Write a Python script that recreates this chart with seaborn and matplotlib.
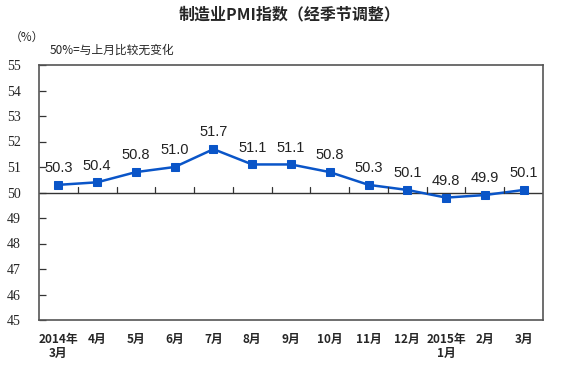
import matplotlib
matplotlib.use("Agg")
import matplotlib.pyplot as plt
import seaborn as sns
import pandas as pd

# data
months = ["2014年\n3月", "4月", "5月", "6月", "7月", "8月", "9月", "10月",
          "11月", "12月", "2015年\n1月", "2月", "3月"]
pmi = [50.3, 50.4, 50.8, 51.0, 51.7, 51.1, 51.1, 50.8, 50.3, 50.1, 49.8, 49.9, 50.1]
yticks = list(range(45, 56))

df = pd.DataFrame({"pos": range(len(months)), "pmi": pmi})

sns.set_style("white")
cjk = ["Noto Sans CJK SC", "DejaVu Sans"]
plt.rcParams["font.family"] = cjk

fig = plt.figure(figsize=(5.8, 3.7), dpi=100)
ax = fig.add_axes([39 / 580, 1 - 320 / 370, 504 / 580, 255 / 370])

blue = "#0a55c8"
sns.lineplot(data=df, x="pos", y="pmi", ax=ax, color=blue, linewidth=1.8,
             marker="s", markersize=5.5, markeredgecolor=blue)

for x, y in zip(df.pos, df.pmi):
    ax.annotate(f"{y:.1f}", (x, y), xytext=(0, 7), textcoords="offset points",
                ha="center", va="bottom", fontsize=10.5,
                family="Liberation Sans", color="#222222")

# 50 reference line with small ticks between months
ax.axhline(50, color="#333333", linewidth=1.0, zorder=1)
for i in range(len(months) - 1):
    ax.plot([i + 0.5, i + 0.5], [50, 50.2], color="#333333", linewidth=0.9)

ax.set_xlim(-0.5, len(months) - 0.5)
ax.set_ylim(45, 55)
ax.set_yticks(yticks)
ax.set_yticklabels([str(v) for v in yticks], family="Liberation Serif",
                   fontsize=10)
ax.tick_params(axis="y", direction="in", length=5, width=0.9, pad=13,
               left=True, color="#333333")
ax.set_xticks(range(len(months)))
ax.set_xticklabels(months, fontsize=8.5, fontweight="bold", family=cjk,
                   linespacing=1.1, va="top")
ax.tick_params(axis="x", length=0, pad=9)
for s in ax.spines.values():
    s.set_color("#555555")
    s.set_linewidth(1.2)
ax.set_xlabel("")
ax.set_ylabel("")

fig.text(290 / 580, 1 - 14 / 370, "制造业PMI指数（经季节调整）", ha="center",
         va="center", fontsize=11.5, fontweight="bold", family=cjk)
fig.text(10 / 580, 1 - 37 / 370, "（%）", ha="left", va="center", fontsize=8.5,
         family=cjk)
fig.text(50 / 580, 1 - 50 / 370, "50%=与上月比较无变化", ha="left", va="center",
         fontsize=8.5, family=cjk)

fig.savefig("out.png", dpi=100)
